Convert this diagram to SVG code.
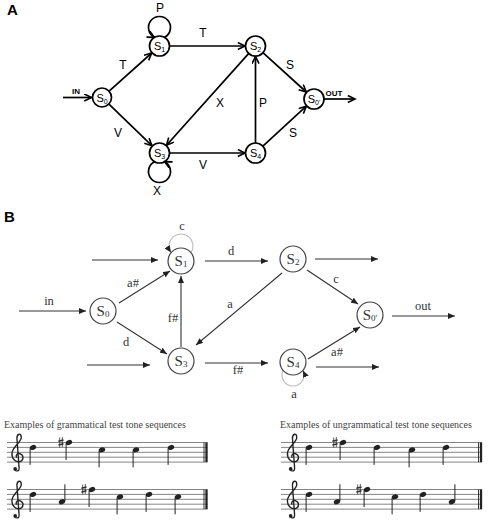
<svg xmlns="http://www.w3.org/2000/svg" width="490" height="525" viewBox="0 0 490 525">
<defs>
<style>
.pa{fill:none;stroke:#000;stroke-width:1.7}
.na{fill:#fff;stroke:#000;stroke-width:1.7}
.la{font-family:"Liberation Sans",Arial,sans-serif;font-size:12px;fill:#000;text-anchor:middle}
.sa{font-family:"Liberation Sans",Arial,sans-serif;font-size:11px;fill:#000;text-anchor:middle}
.io{font-family:"Liberation Sans",Arial,sans-serif;font-size:8px;font-weight:bold;fill:#000;text-anchor:middle}
.hd{font-family:"Liberation Sans",Arial,sans-serif;font-size:15px;font-weight:bold;fill:#000}
.pb{fill:none;stroke:#333;stroke-width:1.1}
.lp{fill:none;stroke:#bbb;stroke-width:1.1}
.nb{fill:#fff;stroke:#444;stroke-width:1.2}
.lb{font-family:"Liberation Serif","Times New Roman",serif;font-size:12.5px;fill:#333;text-anchor:middle}
.sb{font-family:"Liberation Serif","Times New Roman",serif;font-size:15px;fill:#333;text-anchor:middle}
.cap{font-family:"Liberation Serif","Times New Roman",serif;font-size:10px;fill:#444}
.st{stroke:#666;stroke-width:0.8}
.stem{stroke:#222;stroke-width:1}
.hdn{fill:#222}
.sh{stroke:#333;stroke-width:0.8}
.shb{stroke:#333;stroke-width:1.5}
</style>
<marker id="ahA" markerWidth="10" markerHeight="10" refX="8" refY="4" orient="auto" markerUnits="userSpaceOnUse"><path d="M0.8,0.5 L8,4 L0.8,7.5" fill="none" stroke="#000" stroke-width="1.6"/></marker>
<marker id="ahB" markerWidth="8" markerHeight="6" refX="7" refY="3" orient="auto" markerUnits="userSpaceOnUse"><path d="M0,0 L7,3 L0,6 z" fill="#222"/></marker>
<g id="clef">
<path d="M9.8 26 L7.6 -4 C7.4 -9 12 -10.5 12 -5 C12 0 3 4 2.5 11 C2 17 7 20.5 10.5 19.5 C14.5 18.5 15 13 11 11.5 C8 10.5 6 13 7.2 15.5" fill="none" stroke="#222" stroke-width="1.4"/>
<path d="M9.8 26 C10.2 29.5 6.5 30 5.4 27.5" fill="none" stroke="#222" stroke-width="1.2"/>
<circle cx="5.8" cy="27" r="1.9" fill="#222"/>
</g>
<g id="sharp">
<line class="sh" x1="-1.3" y1="-5" x2="-1.3" y2="5"/>
<line class="sh" x1="1.3" y1="-5.5" x2="1.3" y2="4.5"/>
<line class="shb" x1="-2.6" y1="-1.2" x2="2.6" y2="-2.4"/>
<line class="shb" x1="-2.6" y1="2.4" x2="2.6" y2="1.2"/>
</g>
<g id="dn"><ellipse cx="0" cy="0" rx="3.3" ry="2.4" transform="rotate(-20)" class="hdn"/><line class="stem" x1="-2.9" y1="0.8" x2="-2.9" y2="17.5"/></g>
<g id="up"><ellipse cx="0" cy="0" rx="3.3" ry="2.4" transform="rotate(-20)" class="hdn"/><line class="stem" x1="2.9" y1="-0.8" x2="2.9" y2="-17.5"/></g>
</defs>
<rect width="490" height="525" fill="#fff"/>

<!-- Part A -->
<text class="hd" x="7" y="15">A</text>
<g id="A-connectors">
<line class="pa" x1="63" y1="97.5" x2="91.5" y2="97.5" marker-end="url(#ahA)"/>
<line class="pa" x1="109.4" y1="90.8" x2="151.7" y2="53" marker-end="url(#ahA)"/>
<line class="pa" x1="109.2" y1="104.4" x2="151.9" y2="145.7" marker-end="url(#ahA)"/>
<line class="pa" x1="170" y1="46" x2="245" y2="46" marker-end="url(#ahA)"/>
<line class="pa" x1="170" y1="153" x2="245" y2="153" marker-end="url(#ahA)"/>
<line class="pa" x1="255.5" y1="143" x2="255.5" y2="56.5" marker-end="url(#ahA)"/>
<line class="pa" x1="248.8" y1="53.4" x2="166.5" y2="145.2" marker-end="url(#ahA)"/>
<line class="pa" x1="262.9" y1="52.7" x2="306.3" y2="92" marker-end="url(#ahA)"/>
<line class="pa" x1="262.9" y1="146.2" x2="306.3" y2="106.2" marker-end="url(#ahA)"/>
<line class="pa" x1="324" y1="99" x2="355" y2="99" marker-end="url(#ahA)"/>
<path class="pa" d="M164.5 37.3 A11 11 0 1 0 154.5 37.3" marker-end="url(#ahA)"/>
<path class="pa" d="M154.5 161.7 A11 11 0 1 0 164.5 161.7" marker-end="url(#ahA)"/>
<text class="io" x="76" y="94">IN</text>
<text class="io" x="334" y="96">OUT</text>
<text class="la" x="160" y="12">P</text>
<text class="la" x="123" y="69">T</text>
<text class="la" x="118" y="137">V</text>
<text class="la" x="157" y="195">X</text>
<text class="la" x="203" y="37">T</text>
<text class="la" x="290" y="69">S</text>
<text class="la" x="220" y="107">X</text>
<text class="la" x="263" y="107">P</text>
<text class="la" x="293" y="137">S</text>
<text class="la" x="203" y="169">V</text>
</g>
<g id="A-S0"><circle class="na" cx="102" cy="97.5" r="9.5"/><text class="sa" x="102" y="101.5">S<tspan font-size="7" dy="2">0</tspan></text></g>
<g id="A-S1"><circle class="na" cx="159.5" cy="46" r="10"/><text class="sa" x="159.5" y="50">S<tspan font-size="7" dy="2">1</tspan></text></g>
<g id="A-S2"><circle class="na" cx="255.5" cy="46" r="10"/><text class="sa" x="255.5" y="50">S<tspan font-size="7" dy="2">2</tspan></text></g>
<g id="A-S3"><circle class="na" cx="159.5" cy="153" r="10"/><text class="sa" x="159.5" y="157">S<tspan font-size="7" dy="2">3</tspan></text></g>
<g id="A-S4"><circle class="na" cx="255.5" cy="153" r="10"/><text class="sa" x="255.5" y="157">S<tspan font-size="7" dy="2">4</tspan></text></g>
<g id="A-S0p"><circle class="na" cx="314" cy="99" r="10"/><text class="sa" x="314" y="103">S<tspan font-size="7" dy="2">0'</tspan></text></g>

<!-- Part B -->
<text class="hd" x="4" y="222">B</text>
<g id="B-connectors">
<line class="pb" x1="19" y1="311" x2="86" y2="311" marker-end="url(#ahB)"/>
<line class="pb" x1="92" y1="260" x2="158" y2="260" marker-end="url(#ahB)"/>
<line class="pb" x1="87" y1="365" x2="150" y2="365" marker-end="url(#ahB)"/>
<line class="pb" x1="119" y1="303" x2="170" y2="271" marker-end="url(#ahB)"/>
<line class="pb" x1="117" y1="322" x2="167" y2="354" marker-end="url(#ahB)"/>
<line class="pb" x1="181" y1="347" x2="181" y2="276" marker-end="url(#ahB)"/>
<line class="pb" x1="205" y1="261" x2="268" y2="261" marker-end="url(#ahB)"/>
<line class="pb" x1="282" y1="273" x2="196" y2="345" marker-end="url(#ahB)"/>
<line class="pb" x1="205" y1="363" x2="268" y2="363" marker-end="url(#ahB)"/>
<line class="pb" x1="315" y1="259" x2="378" y2="259" marker-end="url(#ahB)"/>
<line class="pb" x1="307" y1="270" x2="358" y2="304" marker-end="url(#ahB)"/>
<line class="pb" x1="392" y1="316" x2="455" y2="316" marker-end="url(#ahB)"/>
<line class="pb" x1="308" y1="359" x2="360" y2="327" marker-end="url(#ahB)"/>
<line class="pb" x1="316" y1="367" x2="379" y2="367" marker-end="url(#ahB)"/>
<path class="lp" d="M191 252.6 A12 12 0 1 0 171 252.6" marker-end="url(#ahB)"/>
<path class="lp" d="M283 370.4 A11 11 0 1 0 303 370.4" marker-end="url(#ahB)"/>
<text class="lb" x="182" y="230">c</text>
<text class="lb" x="49" y="305">in</text>
<text class="lb" x="133" y="287">a#</text>
<text class="lb" x="126" y="346">d</text>
<text class="lb" x="173" y="322">f#</text>
<text class="lb" x="231" y="255">d</text>
<text class="lb" x="230" y="308">a</text>
<text class="lb" x="238" y="374">f#</text>
<text class="lb" x="336" y="283">c</text>
<text class="lb" x="423" y="310">out</text>
<text class="lb" x="337" y="356">a#</text>
<text class="lb" x="294" y="398">a</text>
</g>
<g id="B-S0"><circle class="nb" cx="103" cy="311" r="13"/><text class="sb" x="103" y="315.5">S<tspan font-size="9" dy="1.5">0</tspan></text></g>
<g id="B-S1"><circle class="nb" cx="181" cy="261" r="13"/><text class="sb" x="181" y="265.5">S<tspan font-size="9" dy="1.5">1</tspan></text></g>
<g id="B-S2"><circle class="nb" cx="293" cy="259" r="13"/><text class="sb" x="293" y="263.5">S<tspan font-size="9" dy="1.5">2</tspan></text></g>
<g id="B-S3"><circle class="nb" cx="181" cy="361" r="13"/><text class="sb" x="181" y="365.5">S<tspan font-size="9" dy="1.5">3</tspan></text></g>
<g id="B-S4"><circle class="nb" cx="293" cy="362" r="13"/><text class="sb" x="293" y="366.5">S<tspan font-size="9" dy="1.5">4</tspan></text></g>
<g id="B-S0p"><circle class="nb" cx="370" cy="315" r="13"/><text class="sb" x="370" y="319.5">S<tspan font-size="9" dy="1.5">0'</tspan></text></g>

<!-- Music examples -->
<text class="cap" x="4" y="428">Examples of grammatical test tone sequences</text>
<text class="cap" x="280" y="428">Examples of ungrammatical test tone sequences</text>

<g id="staff-g1">
<g class="st"><line x1="7" y1="442.5" x2="207.5" y2="442.5"/><line x1="7" y1="447.4" x2="207.5" y2="447.4"/><line x1="7" y1="452.3" x2="207.5" y2="452.3"/><line x1="7" y1="457.2" x2="207.5" y2="457.2"/><line x1="7" y1="462.1" x2="207.5" y2="462.1"/></g>
<use href="#clef" transform="translate(9.5,442.5) scale(0.98)"/>
<use href="#dn" x="33" y="447.4"/>
<use href="#sharp" x="61" y="442.5"/><use href="#dn" x="69" y="442.5"/>
<use href="#dn" x="102" y="449.85"/>
<use href="#dn" x="136" y="449.85"/>
<use href="#dn" x="171" y="447.4"/>
<line x1="204" y1="442.5" x2="204" y2="462.1" stroke="#222" stroke-width="0.9"/>
<line x1="206.5" y1="442.5" x2="206.5" y2="462.1" stroke="#222" stroke-width="2.3"/>
</g>
<g id="staff-g2">
<g class="st"><line x1="7" y1="489.5" x2="207.5" y2="489.5"/><line x1="7" y1="494.4" x2="207.5" y2="494.4"/><line x1="7" y1="499.3" x2="207.5" y2="499.3"/><line x1="7" y1="504.2" x2="207.5" y2="504.2"/><line x1="7" y1="509.1" x2="207.5" y2="509.1"/></g>
<use href="#clef" transform="translate(9.5,489.5) scale(0.98)"/>
<use href="#dn" x="33" y="494.4"/>
<use href="#up" x="62" y="501.75"/>
<use href="#sharp" x="84" y="489.5"/><use href="#dn" x="92" y="489.5"/>
<use href="#dn" x="120" y="496.85"/>
<use href="#dn" x="149" y="494.4"/>
<use href="#dn" x="178" y="496.85"/>
<line x1="204" y1="489.5" x2="204" y2="509.1" stroke="#222" stroke-width="0.9"/>
<line x1="206.5" y1="489.5" x2="206.5" y2="509.1" stroke="#222" stroke-width="2.3"/>
</g>
<g id="staff-u1">
<g class="st"><line x1="281" y1="442.5" x2="482" y2="442.5"/><line x1="281" y1="447.4" x2="482" y2="447.4"/><line x1="281" y1="452.3" x2="482" y2="452.3"/><line x1="281" y1="457.2" x2="482" y2="457.2"/><line x1="281" y1="462.1" x2="482" y2="462.1"/></g>
<use href="#clef" transform="translate(285,442.5) scale(0.98)"/>
<use href="#dn" x="309" y="447.4"/>
<use href="#sharp" x="335" y="442.5"/><use href="#dn" x="343" y="442.5"/>
<use href="#dn" x="377" y="447.4"/>
<use href="#dn" x="412" y="449.85"/>
<use href="#dn" x="446" y="447.4"/>
<line x1="478.5" y1="442.5" x2="478.5" y2="462.1" stroke="#222" stroke-width="0.9"/>
<line x1="481" y1="442.5" x2="481" y2="462.1" stroke="#222" stroke-width="2.3"/>
</g>
<g id="staff-u2">
<g class="st"><line x1="281" y1="489.5" x2="482" y2="489.5"/><line x1="281" y1="494.4" x2="482" y2="494.4"/><line x1="281" y1="499.3" x2="482" y2="499.3"/><line x1="281" y1="504.2" x2="482" y2="504.2"/><line x1="281" y1="509.1" x2="482" y2="509.1"/></g>
<use href="#clef" transform="translate(285,489.5) scale(0.98)"/>
<use href="#dn" x="309" y="494.4"/>
<use href="#up" x="337" y="501.75"/>
<use href="#sharp" x="359" y="489.5"/><use href="#dn" x="367" y="489.5"/>
<use href="#dn" x="395" y="496.85"/>
<use href="#dn" x="423" y="494.4"/>
<use href="#up" x="452" y="501.75"/>
<line x1="478.5" y1="489.5" x2="478.5" y2="509.1" stroke="#222" stroke-width="0.9"/>
<line x1="481" y1="489.5" x2="481" y2="509.1" stroke="#222" stroke-width="2.3"/>
</g>
</svg>
